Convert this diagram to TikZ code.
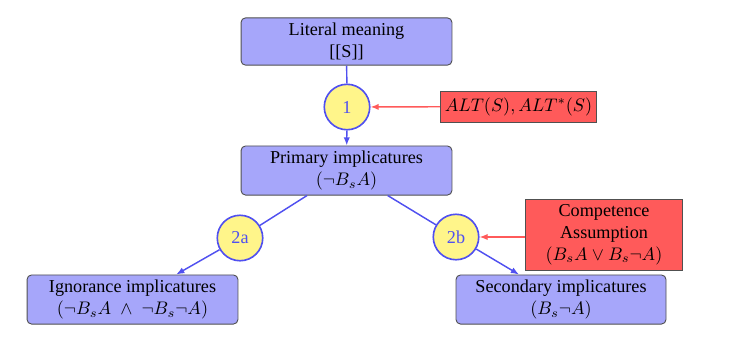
\documentclass[tikz,border=0pt]{standalone}
\usepackage{fontspec}
\IfFontExistsTF{LiberationSerif-Regular.ttf}{\setmainfont{LiberationSerif-Regular.ttf}}{\setmainfont{Latin Modern Roman}}
\usetikzlibrary{arrows.meta}
\definecolor{boxblue}{RGB}{166,166,250}
\definecolor{lineblue}{RGB}{80,80,240}
\definecolor{circyellow}{RGB}{255,245,138}
\definecolor{boxred}{RGB}{255,90,90}
\definecolor{arrred}{RGB}{255,90,90}
\definecolor{edgegray}{RGB}{80,80,80}
\tikzset{
  bluebox/.style={draw=edgegray, line width=0.5pt, fill=boxblue, rounded corners=2.5pt, align=center, minimum width=116pt, minimum height=26pt, inner sep=1pt},
  redbox/.style={draw=edgegray, line width=0.5pt, fill=boxred, align=center, inner sep=1pt},
  stepcirc/.style={circle, draw=lineblue, line width=0.9pt, fill=circyellow, text=lineblue, minimum size=25pt, inner sep=0pt},
  blueline/.style={draw=lineblue, line width=0.8pt},
  bluearrow/.style={blueline, -{Latex[length=4.5pt,width=3.5pt]}},
  redarrow/.style={draw=arrred, line width=0.8pt, -{Latex[length=4.5pt,width=3.5pt]}}
}
\begin{document}
\begin{tikzpicture}[x=0.55pt,y=-0.55pt]
\fill[white] (0,0) rectangle (732,343);
\useasboundingbox (0,0) rectangle (732,343);
\node[bluebox] (lit) at (346.5,41.5) {Literal meaning\\{}[[S]]};
\node[stepcirc] (c1) at (347,107) {1};
\node[redbox, minimum width=86pt, minimum height=17pt] (alt) at (518.5,106.5) {$ALT(S), ALT^{*}(S)$};
\node[bluebox, minimum height=27pt] (prim) at (346.5,170.5) {Primary implicatures\\$(\neg B_sA)$};
\node[stepcirc] (c2a) at (240,238) {2a};
\node[stepcirc] (c2b) at (456,237) {2b};
\node[redbox, minimum width=86pt, minimum height=39pt] (comp) at (604,234.5) {Competence\\Assumption\\$(B_sA \vee B_s\neg A)$};
\node[bluebox, minimum height=27pt] (ign) at (132.5,299.5) {Ignorance implicatures\\$(\neg B_sA \;\wedge\; \neg B_s\neg A)$};
\node[bluebox, minimum width=115.5pt, minimum height=27pt] (sec) at (561,299.5) {Secondary implicatures\\$(B_s\neg A)$};
\draw[blueline] (lit) -- (c1);
\draw[bluearrow] (c1) -- (prim);
\draw[blueline] (prim) -- (c2a);
\draw[bluearrow] (c2a) -- (ign);
\draw[blueline] (prim) -- (c2b);
\draw[bluearrow] (c2b) -- (sec);
\draw[redarrow] (alt) -- (c1);
\draw[redarrow] (comp.west |- c2b) -- (c2b);
\end{tikzpicture}
\end{document}
